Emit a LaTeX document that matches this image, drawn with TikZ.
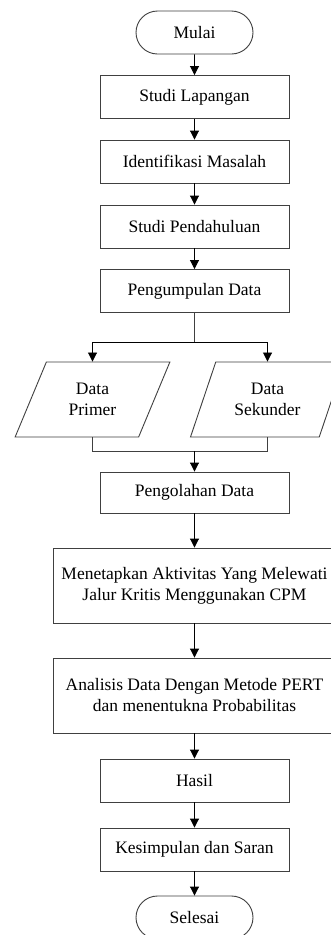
\documentclass[tikz,border=0pt]{standalone}
\usepackage{fontspec}
\setmainfont{Liberation Serif}
\usepackage{tikz}
\usetikzlibrary{arrows.meta, positioning, calc, shapes}
\tikzstyle{box} = [draw=black!75, line width=0.9pt, rectangle, minimum width=189pt, minimum height=43pt, inner sep=0pt, align=center]
\tikzstyle{widebox} = [box, minimum width=283pt, minimum height=75pt]
\tikzstyle{terminal} = [draw=black!75, line width=0.9pt, rounded rectangle, minimum width=117pt, minimum height=43pt, inner sep=0pt]
\tikzstyle{io} = [draw=black!75, line width=0.9pt, trapezium, trapezium left angle=63.7, trapezium right angle=116.3, trapezium stretches=true, minimum width=155pt, minimum height=75pt, inner sep=0pt, align=center]
\tikzstyle{arrow} = [-{Triangle[width=9pt,length=9pt]}, line width=0.9pt, black]
\tikzstyle{line} = [line width=0.9pt, black!75]

\begin{document}
\begin{tikzpicture}[x=1pt, y=-1pt, font=\fontsize{17.5}{21}\selectfont]

\useasboundingbox [fill=white] (0, 0) rectangle (331, 935);

% Main flow
\node [terminal] (mulai) at (194.5, 32.5) {Mulai};
\node [box] (lapangan) at (194.5, 97) {Studi Lapangan};
\node [box] (identifikasi) at (194.5, 161.5) {Identifikasi Masalah};
\node [box] (pendahuluan) at (194.5, 226.5) {Studi Pendahuluan};
\node [box] (pengumpulan) at (194.5, 291) {Pengumpulan Data};

% Data sources
\node [io] (primer) at (92.5, 399.5) {Data\\Primer};
\node [io] (sekunder) at (267.5, 399.5) {Data\\Sekunder};

\node [box, minimum height=41pt] (pengolahan) at (194.5, 492.5) {Pengolahan Data};
\node [widebox] (cpm) at (194.5, 585.5) {Menetapkan Aktivitas Yang Melewati\\Jalur Kritis Menggunakan CPM};
\node [widebox] (pert) at (194.5, 695.5) {Analisis Data Dengan Metode PERT\\dan menentukna Probabilitas};
\node [box] (hasil) at (194.5, 780.5) {Hasil};
\node [box] (kesimpulan) at (194.5, 849.5) {Kesimpulan dan Saran};
\node [terminal] (selesai) at (194.5, 917.5) {Selesai};

% Connectors
\draw [arrow] (mulai) -- (lapangan);
\draw [arrow] (lapangan) -- (identifikasi);
\draw [arrow] (identifikasi) -- (pendahuluan);
\draw [arrow] (pendahuluan) -- (pengumpulan);

\coordinate (split) at (194.5, 342);
\coordinate (join) at (194.5, 451);
\draw [line] (pengumpulan.south) -- (split);
\draw [arrow] (split) -| (primer.north);
\draw [arrow] (split) -| (sekunder.north);
\draw [line] (primer.south) |- (join);
\draw [line] (sekunder.south) |- (join);
\draw [arrow] (join) -- (pengolahan);

\draw [arrow] (pengolahan) -- (cpm);
\draw [arrow] (cpm) -- (pert);
\draw [arrow] (pert) -- (hasil);
\draw [arrow] (hasil) -- (kesimpulan);
\draw [arrow] (kesimpulan) -- (selesai);

\end{tikzpicture}
\end{document}
